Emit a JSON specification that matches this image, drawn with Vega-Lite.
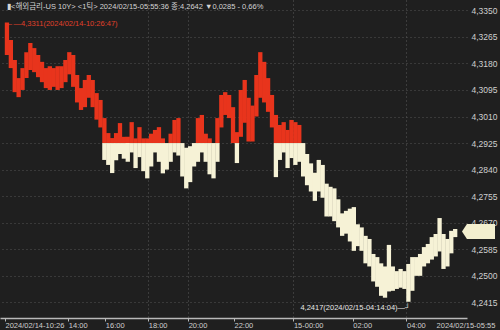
{
  "$schema": "https://vega.github.io/schema/vega-lite/v6.json",
  "width": 467,
  "height": 318,
  "autosize": {"type": "none"},
  "padding": {"left": 0, "top": 0, "right": 33, "bottom": 12},
  "background": "#1f1f1f",
  "config": {"view": {"stroke": null}, "font": "Liberation Sans"},
  "datasets": {
    "bars": [
      {"i":0,"hi":4.3311,"lo":4.3207,"s":"u"},
      {"i":1,"hi":4.3255,"lo":4.3165,"s":"u"},
      {"i":2,"hi":4.3191,"lo":4.3088,"s":"u"},
      {"i":3,"hi":4.3133,"lo":4.3072,"s":"u"},
      {"i":4,"hi":4.3165,"lo":4.3095,"s":"u"},
      {"i":5,"hi":4.3216,"lo":4.3133,"s":"u"},
      {"i":6,"hi":4.3245,"lo":4.3159,"s":"u"},
      {"i":7,"hi":4.3229,"lo":4.3152,"s":"u"},
      {"i":8,"hi":4.3207,"lo":4.3136,"s":"u"},
      {"i":9,"hi":4.3185,"lo":4.3120,"s":"u"},
      {"i":10,"hi":4.3165,"lo":4.3101,"s":"u"},
      {"i":11,"hi":4.3171,"lo":4.3095,"s":"u"},
      {"i":12,"hi":4.3165,"lo":4.3105,"s":"u"},
      {"i":13,"hi":4.3171,"lo":4.3095,"s":"u"},
      {"i":14,"hi":4.3171,"lo":4.3101,"s":"u"},
      {"i":15,"hi":4.3191,"lo":4.3120,"s":"u"},
      {"i":16,"hi":4.3216,"lo":4.3145,"s":"u"},
      {"i":17,"hi":4.3207,"lo":4.3105,"s":"u"},
      {"i":18,"hi":4.3143,"lo":4.3055,"s":"u"},
      {"i":19,"hi":4.3101,"lo":4.3031,"s":"u"},
      {"i":20,"hi":4.3127,"lo":4.3040,"s":"u"},
      {"i":21,"hi":4.3143,"lo":4.3070,"s":"u"},
      {"i":22,"hi":4.3127,"lo":4.3040,"s":"u"},
      {"i":23,"hi":4.3085,"lo":4.3000,"s":"u"},
      {"i":24,"hi":4.3063,"lo":4.2975,"s":"u"},
      {"i":25,"hi":4.3005,"lo":4.2925,"s":"u"},
      {"i":25,"hi":4.2925,"lo":4.2871,"s":"d"},
      {"i":26,"hi":4.2957,"lo":4.2925,"s":"u"},
      {"i":26,"hi":4.2925,"lo":4.2855,"s":"d"},
      {"i":27,"hi":4.2941,"lo":4.2925,"s":"u"},
      {"i":27,"hi":4.2925,"lo":4.2829,"s":"d"},
      {"i":28,"hi":4.2957,"lo":4.2925,"s":"u"},
      {"i":28,"hi":4.2925,"lo":4.2870,"s":"d"},
      {"i":29,"hi":4.2989,"lo":4.2925,"s":"u"},
      {"i":29,"hi":4.2925,"lo":4.2890,"s":"d"},
      {"i":30,"hi":4.2945,"lo":4.2925,"s":"u"},
      {"i":30,"hi":4.2925,"lo":4.2875,"s":"d"},
      {"i":31,"hi":4.2945,"lo":4.2925,"s":"u"},
      {"i":31,"hi":4.2925,"lo":4.2865,"s":"d"},
      {"i":32,"hi":4.2992,"lo":4.2925,"s":"u"},
      {"i":32,"hi":4.2925,"lo":4.2895,"s":"d"},
      {"i":33,"hi":4.2940,"lo":4.2925,"s":"u"},
      {"i":33,"hi":4.2925,"lo":4.2845,"s":"d"},
      {"i":34,"hi":4.2976,"lo":4.2925,"s":"u"},
      {"i":34,"hi":4.2925,"lo":4.2880,"s":"d"},
      {"i":35,"hi":4.2940,"lo":4.2925,"s":"u"},
      {"i":35,"hi":4.2925,"lo":4.2835,"s":"d"},
      {"i":36,"hi":4.2940,"lo":4.2925,"s":"u"},
      {"i":36,"hi":4.2925,"lo":4.2812,"s":"d"},
      {"i":37,"hi":4.2955,"lo":4.2925,"s":"u"},
      {"i":37,"hi":4.2925,"lo":4.2850,"s":"d"},
      {"i":38,"hi":4.2967,"lo":4.2925,"s":"u"},
      {"i":38,"hi":4.2925,"lo":4.2895,"s":"d"},
      {"i":39,"hi":4.2976,"lo":4.2925,"s":"u"},
      {"i":39,"hi":4.2925,"lo":4.2865,"s":"d"},
      {"i":40,"hi":4.2940,"lo":4.2925,"s":"u"},
      {"i":40,"hi":4.2925,"lo":4.2828,"s":"d"},
      {"i":41,"hi":4.2925,"lo":4.2840,"s":"d"},
      {"i":42,"hi":4.2955,"lo":4.2925,"s":"u"},
      {"i":42,"hi":4.2925,"lo":4.2865,"s":"d"},
      {"i":43,"hi":4.2999,"lo":4.2925,"s":"u"},
      {"i":43,"hi":4.2925,"lo":4.2895,"s":"d"},
      {"i":44,"hi":4.3005,"lo":4.2925,"s":"u"},
      {"i":44,"hi":4.2925,"lo":4.2885,"s":"d"},
      {"i":45,"hi":4.2925,"lo":4.2818,"s":"d"},
      {"i":46,"hi":4.2910,"lo":4.2780,"s":"d"},
      {"i":47,"hi":4.2915,"lo":4.2800,"s":"d"},
      {"i":48,"hi":4.2925,"lo":4.2850,"s":"d"},
      {"i":49,"hi":4.3005,"lo":4.2925,"s":"u"},
      {"i":49,"hi":4.2925,"lo":4.2865,"s":"d"},
      {"i":50,"hi":4.3015,"lo":4.2925,"s":"u"},
      {"i":50,"hi":4.2925,"lo":4.2895,"s":"d"},
      {"i":51,"hi":4.2955,"lo":4.2925,"s":"u"},
      {"i":51,"hi":4.2925,"lo":4.2865,"s":"d"},
      {"i":52,"hi":4.2940,"lo":4.2925,"s":"u"},
      {"i":52,"hi":4.2925,"lo":4.2825,"s":"d"},
      {"i":53,"hi":4.2925,"lo":4.2812,"s":"d"},
      {"i":54,"hi":4.3005,"lo":4.2925,"s":"u"},
      {"i":54,"hi":4.2925,"lo":4.2865,"s":"d"},
      {"i":55,"hi":4.3079,"lo":4.2975,"s":"u"},
      {"i":56,"hi":4.3088,"lo":4.3015,"s":"u"},
      {"i":57,"hi":4.3079,"lo":4.3005,"s":"u"},
      {"i":58,"hi":4.3040,"lo":4.2925,"s":"u"},
      {"i":59,"hi":4.2960,"lo":4.2925,"s":"u"},
      {"i":59,"hi":4.2925,"lo":4.2861,"s":"d"},
      {"i":60,"hi":4.3095,"lo":4.2945,"s":"u"},
      {"i":61,"hi":4.3127,"lo":4.2990,"s":"u"},
      {"i":62,"hi":4.3070,"lo":4.2930,"s":"u"},
      {"i":63,"hi":4.3045,"lo":4.2930,"s":"u"},
      {"i":64,"hi":4.3143,"lo":4.3010,"s":"u"},
      {"i":65,"hi":4.3216,"lo":4.3070,"s":"u"},
      {"i":66,"hi":4.3185,"lo":4.3055,"s":"u"},
      {"i":67,"hi":4.3133,"lo":4.3025,"s":"u"},
      {"i":68,"hi":4.3079,"lo":4.2975,"s":"u"},
      {"i":69,"hi":4.3015,"lo":4.2925,"s":"u"},
      {"i":69,"hi":4.2925,"lo":4.2816,"s":"d"},
      {"i":70,"hi":4.2983,"lo":4.2925,"s":"u"},
      {"i":70,"hi":4.2925,"lo":4.2871,"s":"d"},
      {"i":71,"hi":4.2992,"lo":4.2925,"s":"u"},
      {"i":71,"hi":4.2925,"lo":4.2895,"s":"d"},
      {"i":72,"hi":4.2967,"lo":4.2925,"s":"u"},
      {"i":72,"hi":4.2925,"lo":4.2845,"s":"d"},
      {"i":73,"hi":4.2999,"lo":4.2925,"s":"u"},
      {"i":73,"hi":4.2925,"lo":4.2877,"s":"d"},
      {"i":74,"hi":4.2992,"lo":4.2925,"s":"u"},
      {"i":74,"hi":4.2925,"lo":4.2855,"s":"d"},
      {"i":75,"hi":4.2983,"lo":4.2925,"s":"u"},
      {"i":75,"hi":4.2925,"lo":4.2865,"s":"d"},
      {"i":76,"hi":4.2925,"lo":4.2818,"s":"d"},
      {"i":77,"hi":4.2890,"lo":4.2790,"s":"d"},
      {"i":78,"hi":4.2860,"lo":4.2770,"s":"d"},
      {"i":79,"hi":4.2830,"lo":4.2740,"s":"d"},
      {"i":80,"hi":4.2871,"lo":4.2770,"s":"d"},
      {"i":81,"hi":4.2855,"lo":4.2750,"s":"d"},
      {"i":82,"hi":4.2795,"lo":4.2690,"s":"d"},
      {"i":83,"hi":4.2785,"lo":4.2690,"s":"d"},
      {"i":84,"hi":4.2780,"lo":4.2675,"s":"d"},
      {"i":85,"hi":4.2745,"lo":4.2655,"s":"d"},
      {"i":86,"hi":4.2700,"lo":4.2628,"s":"d"},
      {"i":87,"hi":4.2708,"lo":4.2635,"s":"d"},
      {"i":88,"hi":4.2715,"lo":4.2610,"s":"d"},
      {"i":89,"hi":4.2720,"lo":4.2580,"s":"d"},
      {"i":90,"hi":4.2665,"lo":4.2595,"s":"d"},
      {"i":91,"hi":4.2655,"lo":4.2580,"s":"d"},
      {"i":92,"hi":4.2628,"lo":4.2540,"s":"d"},
      {"i":93,"hi":4.2618,"lo":4.2530,"s":"d"},
      {"i":94,"hi":4.2570,"lo":4.2482,"s":"d"},
      {"i":95,"hi":4.2560,"lo":4.2465,"s":"d"},
      {"i":96,"hi":4.2540,"lo":4.2436,"s":"d"},
      {"i":97,"hi":4.2530,"lo":4.2430,"s":"d"},
      {"i":98,"hi":4.2599,"lo":4.2450,"s":"d"},
      {"i":99,"hi":4.2530,"lo":4.2452,"s":"d"},
      {"i":100,"hi":4.2515,"lo":4.2458,"s":"d"},
      {"i":101,"hi":4.2522,"lo":4.2462,"s":"d"},
      {"i":102,"hi":4.2515,"lo":4.2458,"s":"d"},
      {"i":103,"hi":4.2538,"lo":4.2417,"s":"d"},
      {"i":104,"hi":4.2560,"lo":4.2452,"s":"d"},
      {"i":105,"hi":4.2560,"lo":4.2500,"s":"d"},
      {"i":106,"hi":4.2570,"lo":4.2500,"s":"d"},
      {"i":107,"hi":4.2592,"lo":4.2530,"s":"d"},
      {"i":108,"hi":4.2602,"lo":4.2540,"s":"d"},
      {"i":109,"hi":4.2624,"lo":4.2552,"s":"d"},
      {"i":110,"hi":4.2634,"lo":4.2562,"s":"d"},
      {"i":111,"hi":4.2685,"lo":4.2578,"s":"d"},
      {"i":112,"hi":4.2634,"lo":4.2522,"s":"d"},
      {"i":113,"hi":4.2618,"lo":4.2530,"s":"d"},
      {"i":114,"hi":4.2644,"lo":4.2572,"s":"d"},
      {"i":115,"hi":4.2650,"lo":4.2624,"s":"d"}
    ]
  },
  "layer": [
    {
      "data": {"name": "bars"},
      "mark": {"type": "bar", "width": 4.3},
      "encoding": {
        "x": {
          "field": "i", "type": "quantitative",
          "scale": {"domain": [-0.5, 116.75], "nice": false, "zero": false},
          "axis": {
            "orient": "bottom",
            "values": [-0.5, 15.75, 25.25, 36.25, 46.5, 58.25, 73.5, 88.75, 102.5, 110.1],
            "tickCount": 30,
            "labelExpr": "datum.value < 0 ? '2024/02/14-10:26' : datum.value < 20 ? '14:00' : datum.value < 30 ? '16:00' : datum.value < 40 ? '18:00' : datum.value < 50 ? '20:00' : datum.value < 60 ? '22:00' : datum.value < 80 ? '15-00:00' : datum.value < 95 ? '02:00' : datum.value < 105 ? '04:00' : '2024/02/15-05:55'",
            "labelAlign": "left",
            "labelFlush": false,
            "labelOverlap": false,
            "labelBound": false,
            "labelColor": "#cfcfcf",
            "labelFontSize": 7.5,
            "labelPadding": 0,
            "labelBaseline": "top",
            "domainColor": "#b8b8b8",
            "domainWidth": 1.5,
            "tickSize": 3,
            "tickColor": {"condition": {"test": "datum.value > 105", "value": "transparent"}, "value": "#b8b8b8"},
            "grid": true,
            "gridColor": {"condition": {"test": "datum.value == 36.25 || datum.value == 46.5 || datum.value == 73.5 || datum.value == 102.5", "value": "#5a5a5a"}, "value": "transparent"},
            "gridDash": [1, 3],
            "title": null
          }
        },
        "y": {
          "field": "hi", "type": "quantitative",
          "scale": {"domain": [4.2365, 4.3383], "nice": false, "zero": false},
          "axis": {
            "orient": "right",
            "values": [4.2415, 4.25, 4.2585, 4.267, 4.2755, 4.284, 4.2925, 4.301, 4.3095, 4.318, 4.3265, 4.335],
            "tickCount": 30,
            "labelExpr": "replace(format(datum.value, '.4f'), '.', ',')",
            "labelColor": "#cfcfcf",
            "labelFontSize": 8.5,
            "labelPadding": 4,
            "labelOverlap": false,
            "labelBound": false,
            "labelFlush": false,
            "domain": false,
            "ticks": false,
            "grid": true,
            "gridColor": "#555555",
            "gridDash": [1, 3],
            "title": null
          }
        },
        "y2": {"field": "lo"},
        "color": {
          "field": "s", "type": "nominal",
          "scale": {"domain": ["u", "d"], "range": ["#e8341c", "#f6f2d6"]},
          "legend": null
        }
      }
    },
    {
      "mark": {"type": "rule", "color": "#dcdcdc", "strokeDash": [2, 2], "strokeWidth": 1},
      "encoding": {"y": {"datum": 4.2925}}
    },
    {
      "mark": {"type": "rule", "color": "#c0281a", "strokeWidth": 1.5},
      "encoding": {"x": {"datum": 116.75}, "y": {"datum": 4.3383}, "y2": {"datum": 4.2925}}
    },
    {
      "mark": {"type": "rule", "color": "#e8e4cc", "strokeWidth": 1.5},
      "encoding": {"x": {"datum": 116.75}, "y": {"datum": 4.2925}, "y2": {"datum": 4.2365}}
    },
    {
      "data": {"values": [{"i": 116.75, "v": 4.2642}]},
      "mark": {"type": "point", "filled": true, "opacity": 1, "color": "#f3efcf", "shape": "M0,0L0.3,-0.45L2,-0.45L2,0.45L0.3,0.45Z", "size": 1089},
      "encoding": {"x": {"field": "i", "type": "quantitative"}, "y": {"field": "v", "type": "quantitative"}}
    },
    {
      "data": {"values": [{"i": -0.5, "v": 4.3311, "t": "←—4,3311(2024/02/14-10:26:47)"}]},
      "mark": {"type": "text", "align": "left", "baseline": "middle", "dx": 1, "dy": 2, "fontSize": 7.5, "color": "#e0402a"},
      "encoding": {"x": {"field": "i", "type": "quantitative"}, "y": {"field": "v", "type": "quantitative"}, "text": {"field": "t"}}
    },
    {
      "data": {"values": [{"i": 103, "v": 4.2417, "t": "4,2417(2024/02/15-04:14:04)—┘"}]},
      "mark": {"type": "text", "align": "right", "baseline": "middle", "dx": 2, "dy": 6, "fontSize": 7.5, "color": "#e6e6e6"},
      "encoding": {"x": {"field": "i", "type": "quantitative"}, "y": {"field": "v", "type": "quantitative"}, "text": {"field": "t"}}
    },
    {
      "data": {"values": [{"i": -0.5, "v": 4.3383, "t": "▮<해외금리-US 10Y> <1틱> 2024/02/15-05:55:36 종:4,2642 ▼0,0285 - 0,66%"}]},
      "mark": {"type": "text", "align": "left", "baseline": "middle", "dx": 2, "dy": 7, "fontSize": 7.5, "color": "#d4d4d4", "font": "Liberation Sans, Noto Sans CJK KR"},
      "encoding": {"x": {"field": "i", "type": "quantitative"}, "y": {"field": "v", "type": "quantitative"}, "text": {"field": "t"}}
    }
  ]
}
